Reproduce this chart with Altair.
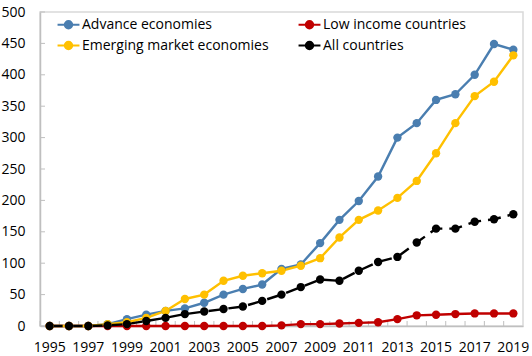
import altair as alt
import pandas as pd

# Cumulative counts by country group, 1995-2019
years = list(range(1995, 2020))
advanced = [0, 0, 0, 3, 11, 18, 24, 28, 37, 50, 59, 66, 91, 98, 132, 169, 199, 238, 300, 323, 360, 369, 400, 449, 440]
low_income = [0, 0, 0, 0, 0, 0, 0, 0, 0, 0, 0, 0, 1, 3, 3, 4, 5, 6, 11, 17, 18, 19, 20, 20, 20]
emerging = [0, 0, 0, 3, 6, 13, 24, 43, 50, 72, 80, 84, 88, 96, 108, 141, 169, 184, 204, 231, 275, 323, 366, 389, 431]
all_countries = [0, 0, 0, 1, 3, 8, 13, 19, 23, 27, 31, 40, 50, 62, 74, 72, 88, 102, 110, 133, 155, 155, 166, 170, 178]

series_names = ["Advance economies", "Low income countries", "Emerging market economies", "All countries"]
series_colors = ["#4A7EB0", "#C00000", "#FFC000", "#000000"]
series_values = [advanced, low_income, emerging, all_countries]
y_ticks = list(range(0, 501, 50))

rows = []
for name, vals in zip(series_names, series_values):
    for yr, v in zip(years, vals):
        rows.append({"year": str(yr), "series": name, "value": v})
df = pd.DataFrame(rows)
year_df = pd.DataFrame({"year": [str(y) for y in years]})
ytick_df = pd.DataFrame({"v": y_ticks})

W, H = 483, 314
STEP = W / len(years)
FONT = "Open Sans"

x_scale = alt.Scale(type="band", paddingInner=0, paddingOuter=0, domain=[str(y) for y in years])
x_axis = alt.Axis(
    title=None,
    labelExpr="parseInt(datum.value) % 2 == 1 ? datum.label : ''",
    labelAngle=0,
    labelOverlap=False,
    ticks=False,
    domainColor="#bfbfbf",
    domainWidth=1.5,
    labelPadding=14,
    labelFontSize=14,
    labelColor="#000000",
    labelFont=FONT,
)
y_scale = alt.Scale(domain=[0, 500], nice=False)
y_axis = alt.Axis(
    title=None,
    values=y_ticks,
    grid=False,
    ticks=False,
    labelOverlap=False,
    domainColor="#bfbfbf",
    domainWidth=1.5,
    labelPadding=15,
    labelFontSize=14,
    labelColor="#000000",
    labelFont=FONT,
)
color_scale = alt.Scale(domain=series_names, range=series_colors)
color_enc = alt.Color(
    "series:N",
    scale=color_scale,
    legend=alt.Legend(
        title=None,
        orient="none",
        legendX=16,
        legendY=0,
        direction="horizontal",
        columns=2,
        columnPadding=25,
        rowPadding=0,
        labelLimit=400,
        symbolType="M-1,0H1M0.33,0A0.33,0.33 0 1 1 -0.33,0A0.33,0.33 0 1 1 0.33,0Z",
        symbolSize=480,
        symbolStrokeWidth=2.2,
        labelFontSize=14,
        labelFont=FONT,
        labelColor="#000000",
        labelOffset=1,
    ),
)

base = alt.Chart(df)
x_enc = alt.X("year:O", scale=x_scale, axis=x_axis)
y_enc = alt.Y("value:Q", scale=y_scale, axis=y_axis)

# solid lines for the three groups, dashed line for the all-country total
solid_lines = base.transform_filter(alt.datum.series != "All countries").mark_line(strokeWidth=2.4).encode(
    x=x_enc, y=y_enc, color=color_enc
)
dashed_line = base.transform_filter(alt.datum.series == "All countries").mark_line(
    strokeWidth=2.4, strokeDash=[13, 7]
).encode(x=x_enc, y=y_enc, color=alt.Color("series:N", scale=color_scale))
points = base.mark_point(filled=True, size=70, opacity=1).encode(
    x=x_enc, y=y_enc, color=alt.Color("series:N", scale=color_scale)
)

# small inward tick marks on both axes, x ticks sit between the years
x_ticks = alt.Chart(year_df).mark_rule(color="#bfbfbf", strokeWidth=1, xOffset=-STEP / 2).encode(
    x=alt.X("year:O", scale=x_scale, axis=x_axis),
    y=alt.value(H - 5),
    y2=alt.value(H),
)
y_tick_marks = alt.Chart(ytick_df).mark_rule(color="#bfbfbf", strokeWidth=1).encode(
    y=alt.Y("v:Q", scale=y_scale, axis=y_axis),
    x=alt.value(0),
    x2=alt.value(5),
)

chart = (
    alt.layer(x_ticks, y_tick_marks, solid_lines, dashed_line, points)
    .properties(
        width=W,
        height=H,
        autosize="none",
        padding={"left": 40, "top": 12, "right": 9, "bottom": 30},
        background="#ffffff",
    )
    .configure_view(stroke="#d9d9d9", strokeWidth=1.5)
)

chart.save("out.html", embed_options={"renderer": "svg", "actions": False})
